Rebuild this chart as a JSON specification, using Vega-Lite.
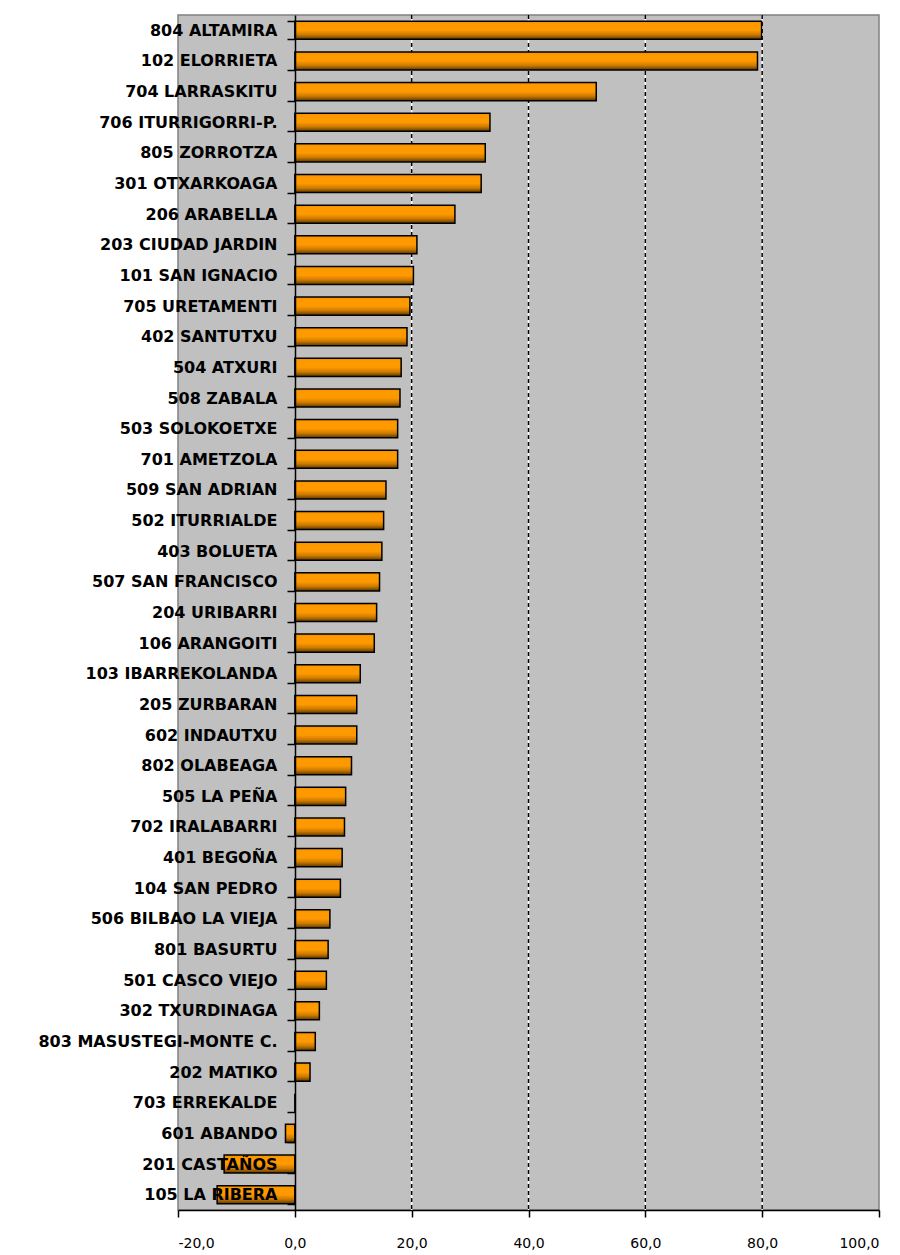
{
  "$schema": "https://vega.github.io/schema/vega-lite/v6.json",
  "autosize": {"type": "none"},
  "padding": {"left": 178, "top": 15, "right": 21, "bottom": 45},
  "width": 701,
  "height": 1195,
  "background": "white",
  "config": {
    "view": {"fill": "#C0C0C0", "stroke": "#808080", "strokeWidth": 1.5}
  },
  "datasets": {
    "barrios": [
      {"barrio": "804 ALTAMIRA", "valor": 79.9},
      {"barrio": "102 ELORRIETA", "valor": 79.2},
      {"barrio": "704 LARRASKITU", "valor": 51.6},
      {"barrio": "706 ITURRIGORRI-P.", "valor": 33.4},
      {"barrio": "805 ZORROTZA", "valor": 32.6},
      {"barrio": "301 OTXARKOAGA", "valor": 31.9},
      {"barrio": "206 ARABELLA", "valor": 27.4},
      {"barrio": "203 CIUDAD JARDIN", "valor": 20.9},
      {"barrio": "101 SAN IGNACIO", "valor": 20.3},
      {"barrio": "705 URETAMENTI", "valor": 19.7},
      {"barrio": "402 SANTUTXU", "valor": 19.2},
      {"barrio": "504 ATXURI", "valor": 18.2},
      {"barrio": "508 ZABALA", "valor": 18.0},
      {"barrio": "503 SOLOKOETXE", "valor": 17.6},
      {"barrio": "701 AMETZOLA", "valor": 17.6},
      {"barrio": "509 SAN ADRIAN", "valor": 15.6},
      {"barrio": "502 ITURRIALDE", "valor": 15.2},
      {"barrio": "403 BOLUETA", "valor": 14.9},
      {"barrio": "507 SAN FRANCISCO", "valor": 14.5},
      {"barrio": "204 URIBARRI", "valor": 14.0},
      {"barrio": "106 ARANGOITI", "valor": 13.6},
      {"barrio": "103 IBARREKOLANDA", "valor": 11.2},
      {"barrio": "205 ZURBARAN", "valor": 10.6},
      {"barrio": "602 INDAUTXU", "valor": 10.6},
      {"barrio": "802 OLABEAGA", "valor": 9.7},
      {"barrio": "505 LA PEÑA", "valor": 8.7},
      {"barrio": "702 IRALABARRI", "valor": 8.5},
      {"barrio": "401 BEGOÑA", "valor": 8.1},
      {"barrio": "104 SAN PEDRO", "valor": 7.8},
      {"barrio": "506 BILBAO LA VIEJA", "valor": 6.0},
      {"barrio": "801 BASURTU", "valor": 5.7},
      {"barrio": "501 CASCO VIEJO", "valor": 5.4},
      {"barrio": "302 TXURDINAGA", "valor": 4.2},
      {"barrio": "803 MASUSTEGI-MONTE C.", "valor": 3.5},
      {"barrio": "202 MATIKO", "valor": 2.6},
      {"barrio": "703 ERREKALDE", "valor": 0.0},
      {"barrio": "601 ABANDO", "valor": -1.6},
      {"barrio": "201 CASTAÑOS", "valor": -12.1},
      {"barrio": "105 LA RIBERA", "valor": -13.3}
    ],
    "grid": [{"g": 20}, {"g": 40}, {"g": 60}, {"g": 80}]
  },
  "layer": [
    {
      "data": {"name": "grid"},
      "mark": {"type": "rule", "color": "white", "strokeWidth": 1.5},
      "encoding": {
        "x": {"field": "g", "type": "quantitative", "scale": {"domain": [-20, 100], "nice": false, "zero": false}}
      }
    },
    {
      "data": {"name": "grid"},
      "mark": {"type": "rule", "color": "black", "strokeWidth": 1.5, "strokeDash": [4, 3]},
      "encoding": {
        "x": {"field": "g", "type": "quantitative"}
      }
    },
    {
      "data": {"name": "barrios"},
      "mark": {
        "type": "bar",
        "stroke": "black",
        "strokeWidth": 1.5,
        "color": {
          "gradient": "linear",
          "x1": 0, "y1": 0, "x2": 0, "y2": 1,
          "stops": [
            {"offset": 0, "color": "#F08F00"},
            {"offset": 0.15, "color": "#FF9900"},
            {"offset": 0.5, "color": "#FF9900"},
            {"offset": 0.75, "color": "#CC7A00"},
            {"offset": 1, "color": "#5C3800"}
          ]
        }
      },
      "encoding": {
        "y": {
          "field": "barrio",
          "type": "nominal",
          "sort": null,
          "scale": {"paddingInner": 0.41, "paddingOuter": 0.205},
          "axis": {
            "title": null,
            "offset": -117,
            "zindex": 1,
            "domainColor": "black",
            "domainWidth": 1.5,
            "tickColor": "black",
            "tickWidth": 1.5,
            "tickSize": 8,
            "tickBand": "extent",
            "labelPadding": 10,
            "labelFont": "DejaVu Sans",
            "labelFontWeight": "bold",
            "labelFontSize": 16,
            "labelColor": "black",
            "labelLimit": 400
          }
        },
        "x": {
          "field": "valor",
          "type": "quantitative",
          "axis": {
            "title": null,
            "grid": false,
            "values": [-20, 0, 20, 40, 60, 80, 100],
            "domainColor": "black",
            "domainWidth": 1.5,
            "tickColor": "black",
            "tickWidth": 1.5,
            "tickSize": 7,
            "labelPadding": 19,
            "labelFont": "DejaVu Sans",
            "labelFontSize": 14,
            "labelColor": "black",
            "labelExpr": "replace(replace(format(datum.value, '.1f'), '.', ','), '\u2212', '-')"
          }
        }
      }
    }
  ]
}
